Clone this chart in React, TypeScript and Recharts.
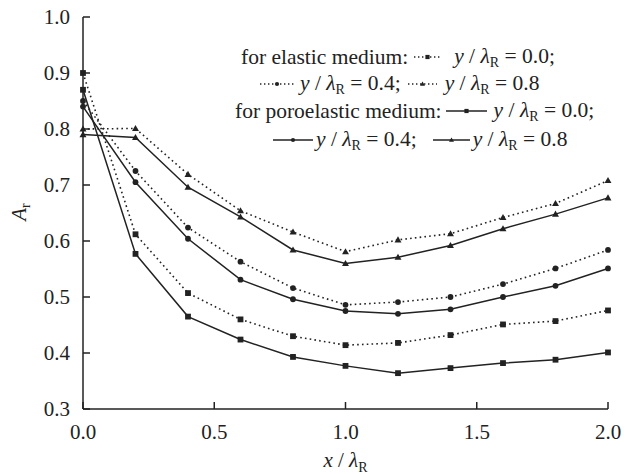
import React from 'react';
import { LineChart, Line, XAxis, YAxis, Label } from 'recharts';

const xValues = [0, 0.2, 0.4, 0.6, 0.8, 1.0, 1.2, 1.4, 1.6, 1.8, 2.0];
const elastic00 = [0.9, 0.612, 0.507, 0.46, 0.43, 0.414, 0.418, 0.432, 0.451, 0.457, 0.476];
const elastic04 = [0.85, 0.725, 0.624, 0.563, 0.516, 0.486, 0.491, 0.5, 0.523, 0.551, 0.584];
const elastic08 = [0.8, 0.801, 0.719, 0.654, 0.616, 0.581, 0.602, 0.613, 0.642, 0.667, 0.708];
const poro00 = [0.87, 0.577, 0.465, 0.424, 0.393, 0.377, 0.364, 0.373, 0.382, 0.388, 0.401];
const poro04 = [0.84, 0.705, 0.604, 0.531, 0.496, 0.475, 0.47, 0.478, 0.5, 0.52, 0.551];
const poro08 = [0.79, 0.785, 0.696, 0.643, 0.584, 0.56, 0.571, 0.592, 0.622, 0.648, 0.677];

const xTicks = [0, 0.5, 1.0, 1.5, 2.0];
const yTicks = [0.3, 0.4, 0.5, 0.6, 0.7, 0.8, 0.9, 1.0];

const INK = '#222';
const FONT = '"Liberation Serif", "Times New Roman", serif';
const DOTS = '1.6 3.2';

const data = xValues.map((x, i) => ({
  x,
  e00: elastic00[i],
  e04: elastic04[i],
  e08: elastic08[i],
  p00: poro00[i],
  p04: poro04[i],
  p08: poro08[i],
}));

type Shape = 'square' | 'circle' | 'triangle';

const series: { key: string; dashed: boolean; shape: Shape }[] = [
  { key: 'e00', dashed: true, shape: 'square' },
  { key: 'e04', dashed: true, shape: 'circle' },
  { key: 'e08', dashed: true, shape: 'triangle' },
  { key: 'p00', dashed: false, shape: 'square' },
  { key: 'p04', dashed: false, shape: 'circle' },
  { key: 'p08', dashed: false, shape: 'triangle' },
];

function MarkerShape({ cx, cy, shape, size }: { cx: number; cy: number; shape: Shape; size: number }) {
  if (shape === 'square') {
    return <rect x={cx - size / 2} y={cy - size / 2} width={size} height={size} fill={INK} />;
  }
  if (shape === 'circle') {
    return <circle cx={cx} cy={cy} r={size / 2} fill={INK} />;
  }
  const h = size * 0.55;
  return (
    <polygon
      points={`${cx},${cy - h * 1.1} ${cx - size * 0.6},${cy + h * 0.8} ${cx + size * 0.6},${cy + h * 0.8}`}
      fill={INK}
    />
  );
}

const makeDot = (shape: Shape, key: string) => (props: any) => {
  const { cx, cy, index } = props;
  if (cx == null || cy == null) return <g key={`${key}-${index}`} />;
  return (
    <g key={`${key}-${index}`}>
      <MarkerShape cx={cx} cy={cy} shape={shape} size={5.8} />
    </g>
  );
};

function XLabel(props: any) {
  const vb = props.viewBox || {};
  const cx = vb.x + vb.width / 2;
  const y = vb.y + 58;
  return (
    <text x={cx} y={y} textAnchor="middle" fontFamily={FONT} fontSize={21} fill={INK}>
      <tspan fontStyle="italic">x</tspan>
      <tspan> / </tspan>
      <tspan fontStyle="italic">λ</tspan>
      <tspan fontSize={14} dy={5}>R</tspan>
    </text>
  );
}

function YLabel(props: any) {
  const vb = props.viewBox || {};
  const cy = vb.y + vb.height / 2 - 1;
  const x = 26;
  return (
    <text
      x={x}
      y={cy}
      transform={`rotate(-90, ${x}, ${cy})`}
      textAnchor="middle"
      fontFamily={FONT}
      fontSize={21}
      fill={INK}
    >
      <tspan fontStyle="italic">A</tspan>
      <tspan fontSize={14} dy={4}>r</tspan>
    </text>
  );
}

function Sample({ dashed, shape, width }: { dashed: boolean; shape: Shape; width: number }) {
  return (
    <svg width={width} height={12} style={{ display: 'block', flex: 'none' }}>
      <line
        x1={0}
        y1={6}
        x2={width}
        y2={6}
        stroke={INK}
        strokeWidth={1.4}
        strokeDasharray={dashed ? '1.4 2.6' : undefined}
      />
      <MarkerShape cx={width / 2} cy={6} shape={shape} size={4.2} />
    </svg>
  );
}

function Ratio({ value }: { value: string }) {
  return (
    <span style={{ whiteSpace: 'nowrap' }}>
      <i>y</i> / <i>λ</i>
      <span style={{ fontSize: 14, position: 'relative', top: 4 }}>R</span> = {value}
    </span>
  );
}

const rowStyle: React.CSSProperties = {
  position: 'absolute',
  display: 'flex',
  alignItems: 'center',
  height: 24,
  lineHeight: '24px',
  whiteSpace: 'nowrap',
  fontFamily: FONT,
  fontSize: 21.5,
  color: INK,
};

function LegendBox() {
  return (
    <div style={{ position: 'absolute', left: 0, top: 0, pointerEvents: 'none' }}>
      <div style={{ ...rowStyle, left: 241, top: 45 }}>
        <span>for elastic medium:</span>
        <span style={{ marginLeft: 6 }}>
          <Sample dashed shape="square" width={27} />
        </span>
        <span style={{ marginLeft: 13 }}>
          <Ratio value="0.0;" />
        </span>
      </div>
      <div style={{ ...rowStyle, left: 260, top: 72 }}>
        <Sample dashed shape="circle" width={34} />
        <span style={{ marginLeft: 6 }}>
          <Ratio value="0.4;" />
        </span>
        <span style={{ marginLeft: 7 }}>
          <Sample dashed shape="triangle" width={29} />
        </span>
        <span style={{ marginLeft: 8 }}>
          <Ratio value="0.8" />
        </span>
      </div>
      <div style={{ ...rowStyle, left: 235, top: 99 }}>
        <span>for poroelastic medium:</span>
        <span style={{ marginLeft: 4 }}>
          <Sample dashed={false} shape="square" width={41} />
        </span>
        <span style={{ marginLeft: 7 }}>
          <Ratio value="0.0;" />
        </span>
      </div>
      <div style={{ ...rowStyle, left: 273, top: 128 }}>
        <Sample dashed={false} shape="circle" width={40} />
        <span style={{ marginLeft: 3 }}>
          <Ratio value="0.4;" />
        </span>
        <span style={{ marginLeft: 16 }}>
          <Sample dashed={false} shape="triangle" width={37} />
        </span>
        <span style={{ marginLeft: 3 }}>
          <Ratio value="0.8" />
        </span>
      </div>
    </div>
  );
}

const tickStyle = { fill: INK, fontSize: 21, fontFamily: FONT };

export default function App() {
  return (
    <div style={{ position: 'fixed', left: 0, top: 0, width: 625, height: 474, background: '#fff' }}>
      <LineChart
        width={625}
        height={474}
        data={data}
        margin={{ top: 17, right: 17, left: 8, bottom: 0 }}
      >
        <XAxis
          dataKey="x"
          type="number"
          domain={[0, 2]}
          ticks={xTicks}
          interval={0}
          tickFormatter={(v: number) => v.toFixed(1)}
          tickSize={-7}
          tickMargin={22}
          height={65}
          axisLine={{ stroke: INK, strokeWidth: 1.5 }}
          tickLine={{ stroke: INK, strokeWidth: 1.5 }}
          tick={tickStyle}
        >
          <Label content={XLabel} />
        </XAxis>
        <XAxis
          xAxisId="top"
          orientation="top"
          type="number"
          domain={[0, 2]}
          height={0}
          tick={false}
          tickLine={false}
          axisLine={{ stroke: INK, strokeWidth: 1.5 }}
        />
        <YAxis
          type="number"
          domain={[0.3, 1.0]}
          ticks={yTicks}
          interval={0}
          tickFormatter={(v: number) => v.toFixed(1)}
          tickSize={-7}
          tickMargin={20}
          width={75}
          axisLine={{ stroke: INK, strokeWidth: 1.5 }}
          tickLine={{ stroke: INK, strokeWidth: 1.5 }}
          tick={tickStyle}
        >
          <Label content={YLabel} />
        </YAxis>
        <YAxis
          yAxisId="right"
          orientation="right"
          type="number"
          domain={[0.3, 1.0]}
          width={0}
          tick={false}
          tickLine={false}
          axisLine={{ stroke: INK, strokeWidth: 1.5 }}
        />
        {series.map((s) => (
          <Line
            key={s.key}
            dataKey={s.key}
            type="linear"
            stroke={INK}
            strokeWidth={s.dashed ? 1.6 : 1.5}
            strokeDasharray={s.dashed ? DOTS : undefined}
            dot={makeDot(s.shape, s.key)}
            activeDot={false}
            isAnimationActive={false}
          />
        ))}
      </LineChart>
      <LegendBox />
    </div>
  );
}
